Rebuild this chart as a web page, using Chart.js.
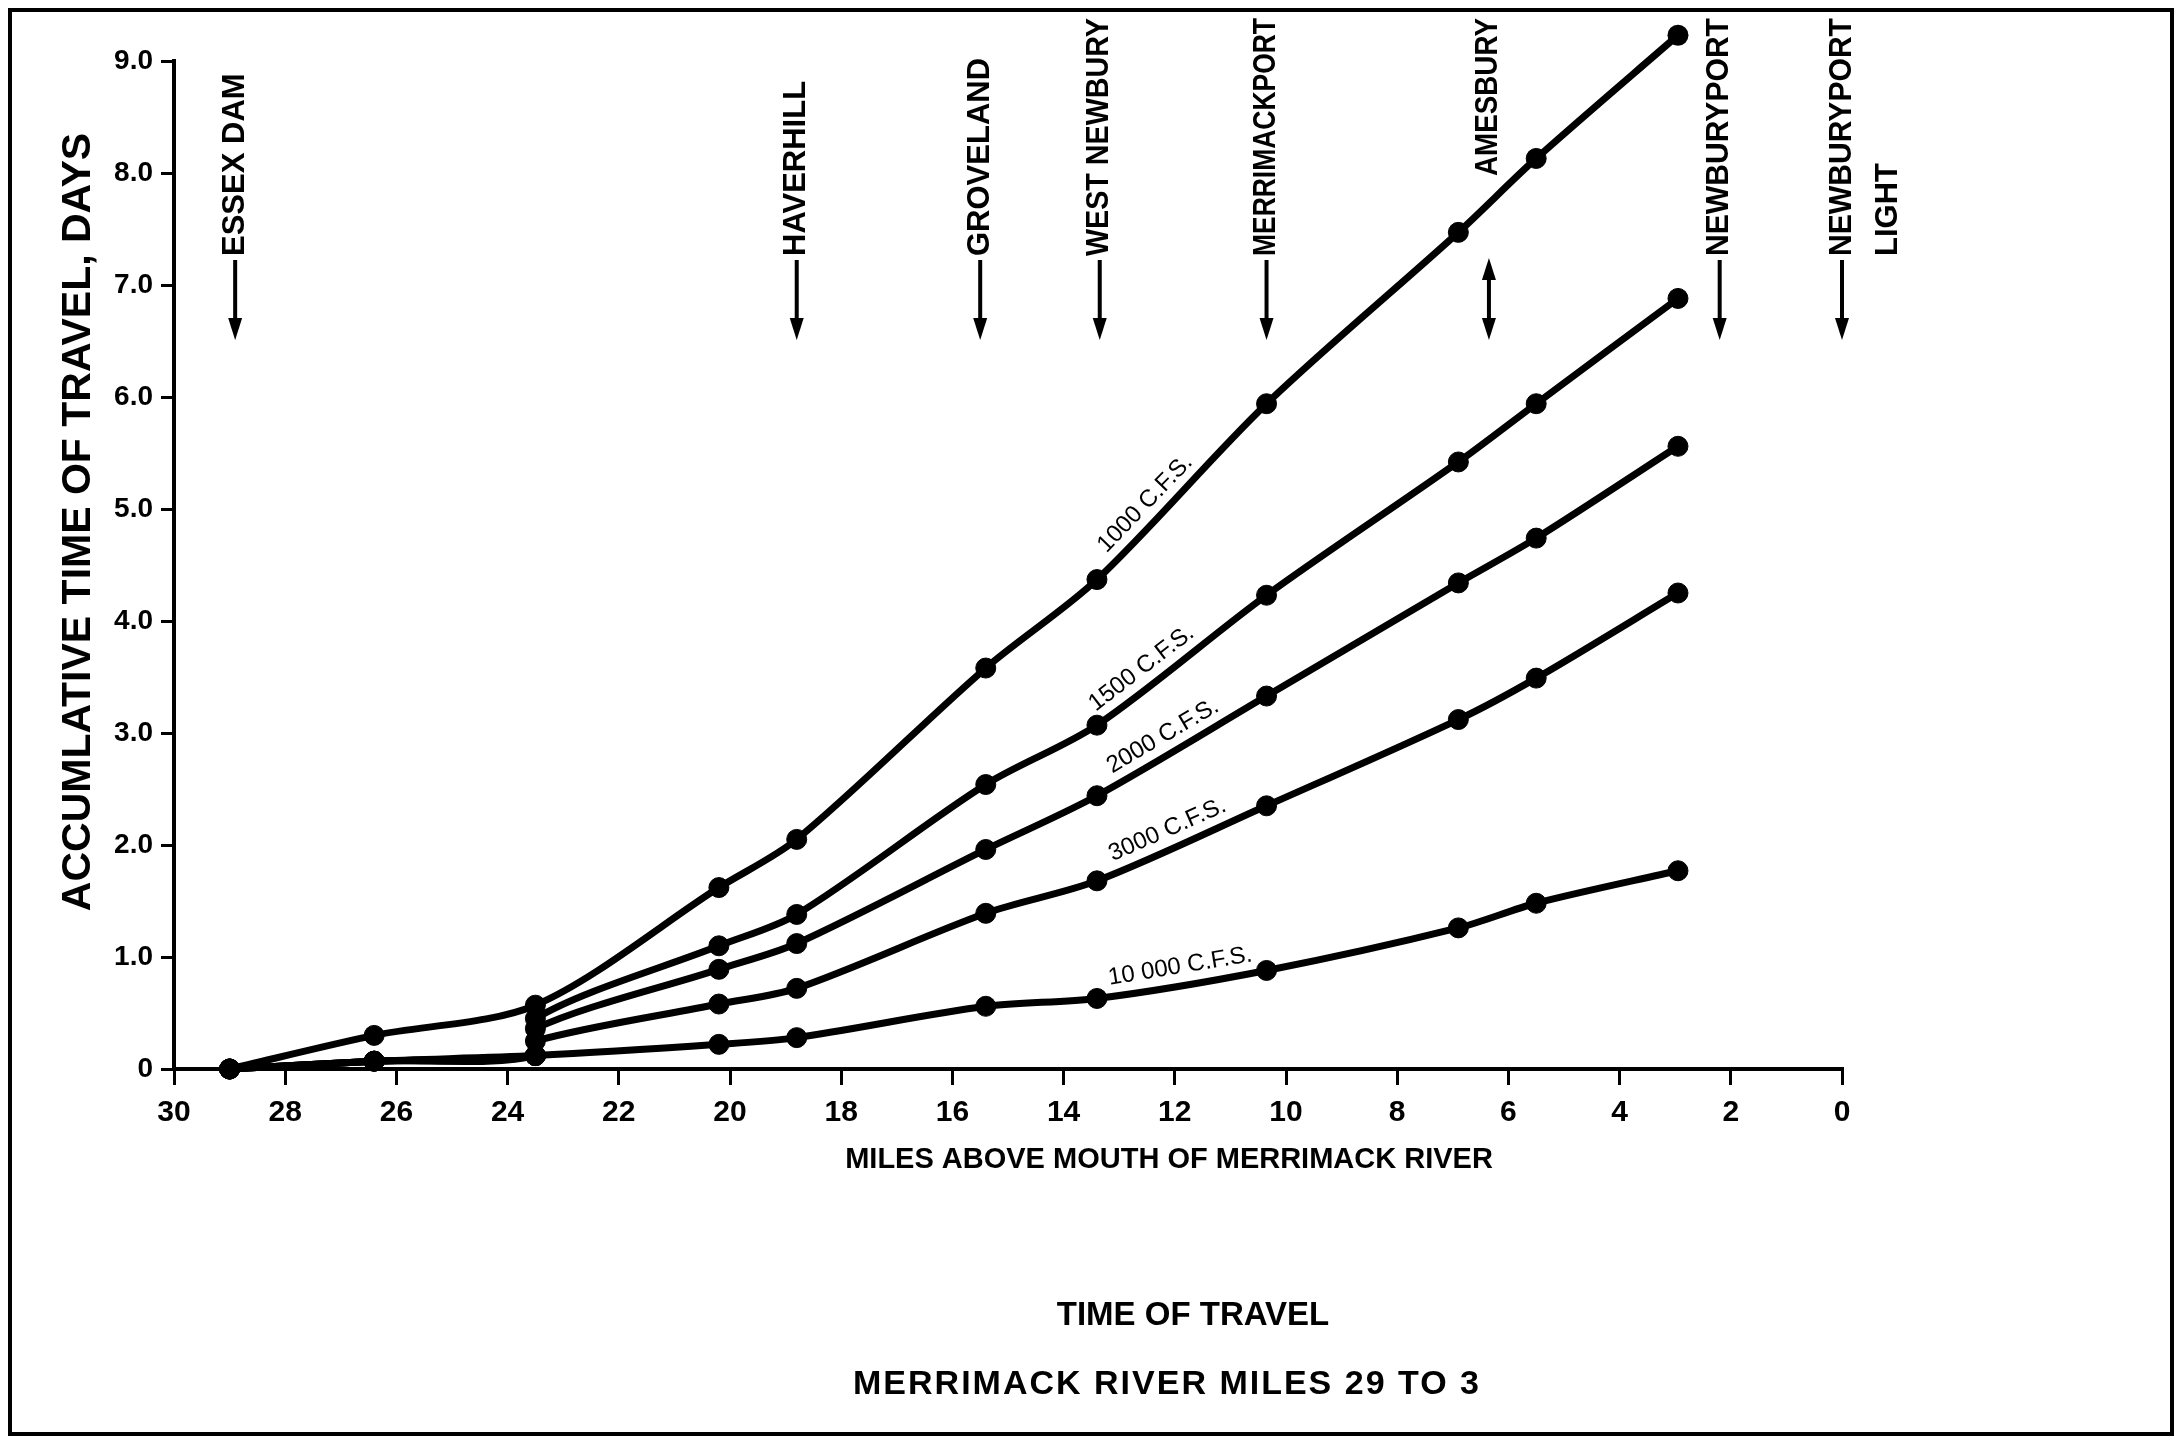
<!DOCTYPE html>
<html>
<head>
<meta charset="utf-8">
<title>Time of Travel - Merrimack River</title>
<script src="https://cdn.jsdelivr.net/npm/chart.js@4.4.1/dist/chart.umd.min.js"></script>
<style>
  html, body { margin: 0; padding: 0; background: #fff; }
  canvas { display: block; }
</style>
</head>
<body>
<canvas id="chart" width="2183" height="1441"></canvas>
<script>
  // miles above the mouth of the river and accumulated days of travel
  let miles1000 = [29, 26.4, 23.5, 20.2, 18.8, 15.4, 13.4, 10.35, 6.9, 5.5, 2.95];
  let days1000 = [0, 0.30, 0.57, 1.62, 2.05, 3.58, 4.37, 5.94, 7.47, 8.13, 9.23];

  let miles1500 = [29, 26.4, 23.5, 23.5, 20.2, 18.8, 15.4, 13.4, 10.35, 6.9, 5.5, 2.95];
  let days1500 = [0, 0.07, 0.12, 0.45, 1.10, 1.38, 2.54, 3.07, 4.23, 5.42, 5.94, 6.88];

  let miles2000 = [29, 26.4, 23.5, 23.5, 20.2, 18.8, 15.4, 13.4, 10.35, 6.9, 5.5, 2.95];
  let days2000 = [0, 0.07, 0.12, 0.36, 0.89, 1.12, 1.96, 2.44, 3.33, 4.34, 4.74, 5.56];

  let miles3000 = [29, 26.4, 23.5, 23.5, 20.2, 18.8, 15.4, 13.4, 10.35, 6.9, 5.5, 2.95];
  let days3000 = [0, 0.07, 0.12, 0.25, 0.58, 0.72, 1.39, 1.68, 2.35, 3.12, 3.49, 4.25];

  let miles10000 = [29, 26.4, 23.5, 20.2, 18.8, 15.4, 13.4, 10.35, 6.9, 5.5, 2.95];
  let days10000 = [0, 0.07, 0.12, 0.22, 0.28, 0.56, 0.63, 0.88, 1.26, 1.48, 1.77];

  let flowLabels = ["1000 C.F.S.", "1500 C.F.S.", "2000 C.F.S.", "3000 C.F.S.", "10 000 C.F.S."];
  let flowLabelMiles = [12.3, 12.4, 12.05, 12.0, 11.85];

  let places = ["ESSEX DAM", "HAVERHILL", "GROVELAND", "WEST NEWBURY", "MERRIMACKPORT", "AMESBURY", "NEWBURYPORT", "NEWBURYPORT"];
  let placeMiles = [28.9, 18.8, 15.5, 13.35, 10.35, 6.35, 2.2, 0];
  let placeSecondLine = ["", "", "", "", "", "", "", "LIGHT"];

  let xTicks = [30, 28, 26, 24, 22, 20, 18, 16, 14, 12, 10, 8, 6, 4, 2, 0];
  let yTicks = [0, 1, 2, 3, 4, 5, 6, 7, 8, 9];

  const FONT = "'Liberation Sans', Arial, sans-serif";
  const DOT = 10;

  function toPoints(xs, ys) {
    return xs.map((x, i) => ({ x: x, y: ys[i] }));
  }

  function series(label, xs, ys) {
    return {
      label: label,
      data: toPoints(xs, ys),
      showLine: true,
      borderColor: "#000",
      backgroundColor: "#000",
      borderWidth: 7,
      pointRadius: DOT,
      pointHoverRadius: DOT,
      pointBorderWidth: 1,
      tension: 0.3,
      clip: false,
    };
  }

  function arrowHead(ctx, x, y, dir) {
    ctx.beginPath();
    ctx.moveTo(x, y);
    ctx.lineTo(x - 7, y - 22 * dir);
    ctx.lineTo(x + 7, y - 22 * dir);
    ctx.closePath();
    ctx.fill();
  }

  const extras = {
    id: "extras",
    afterDatasetsDraw(chart) {
      // Chart.js skips points that sit above the chart area (the 9.2 day point)
      let ctx = chart.ctx;
      let area = chart.chartArea;
      ctx.save();
      ctx.fillStyle = "#000";
      chart.data.datasets.forEach((ds, d) => {
        chart.getDatasetMeta(d).data.forEach(pt => {
          if (pt.y < area.top - DOT / 2) {
            ctx.beginPath();
            ctx.arc(pt.x, pt.y, DOT + 0.5, 0, Math.PI * 2);
            ctx.fill();
          }
        });
      });
      ctx.restore();
    },
    afterDraw(chart) {
      let ctx = chart.ctx;
      let xs = chart.scales.x;
      ctx.save();
      ctx.fillStyle = "#000";
      ctx.strokeStyle = "#000";

      // frame around the figure
      ctx.lineWidth = 4;
      ctx.strokeRect(10, 10, 2162, 1424);

      // flow labels written along the curves
      ctx.font = "24px " + FONT;
      chart.data.datasets.forEach((ds, d) => {
        let meta = chart.getDatasetMeta(d);
        let target = flowLabelMiles[d];
        for (let i = 0; i < ds.data.length - 1; i++) {
          let a = ds.data[i], b = ds.data[i + 1];
          if (a.x >= target && b.x <= target && a.x !== b.x) {
            let pa = meta.data[i], pb = meta.data[i + 1];
            let t = (a.x - target) / (a.x - b.x);
            let px = pa.x + (pb.x - pa.x) * t;
            let py = pa.y + (pb.y - pa.y) * t;
            let ang = Math.atan2(pb.y - pa.y, pb.x - pa.x);
            ctx.save();
            ctx.translate(px, py);
            ctx.rotate(ang);
            ctx.textAlign = "center";
            ctx.textBaseline = "bottom";
            ctx.fillText(flowLabels[d], 0, -6);
            ctx.restore();
            break;
          }
        }
      });

      // place names with arrows
      ctx.font = "bold 31px " + FONT;
      ctx.lineWidth = 4;
      places.forEach((name, i) => {
        let px = xs.getPixelForValue(placeMiles[i]);
        let double = name === "AMESBURY";
        let textEnd = double ? 176 : 256;
        ctx.save();
        ctx.translate(px, textEnd);
        ctx.rotate(-Math.PI / 2);
        ctx.textAlign = "left";
        ctx.textBaseline = "middle";
        ctx.fillText(name, 0, 0, Math.min(240, textEnd - 18));
        if (placeSecondLine[i]) ctx.fillText(placeSecondLine[i], 0, 46);
        ctx.restore();

        let top = double ? 262 : textEnd + 4;
        ctx.beginPath();
        ctx.moveTo(px, top + (double ? 18 : 0));
        ctx.lineTo(px, 322);
        ctx.stroke();
        arrowHead(ctx, px, 340, 1);
        if (double) arrowHead(ctx, px, 258, -1);
      });

      // y axis title
      ctx.save();
      ctx.translate(79, 522);
      ctx.rotate(-Math.PI / 2);
      ctx.font = "bold 41px " + FONT;
      ctx.textAlign = "center";
      ctx.textBaseline = "middle";
      ctx.fillText("ACCUMLATIVE TIME OF TRAVEL, DAYS", 0, 0);
      ctx.restore();

      // x axis title and figure caption
      ctx.textAlign = "center";
      ctx.textBaseline = "middle";
      ctx.font = "bold 29px " + FONT;
      ctx.fillText("MILES ABOVE MOUTH OF MERRIMACK RIVER", 1169, 1160);
      ctx.font = "bold 33px " + FONT;
      ctx.fillText("TIME OF TRAVEL", 1193, 1316);
      ctx.font = "bold 34px " + FONT;
      ctx.letterSpacing = "2px";
      ctx.fillText("MERRIMACK RIVER MILES 29 TO 3", 1167, 1385);
      ctx.restore();
    },
  };

  let chart = new Chart(document.getElementById("chart"), {
    type: "scatter",
    data: {
      datasets: [
        series(flowLabels[0], miles1000, days1000),
        series(flowLabels[1], miles1500, days1500),
        series(flowLabels[2], miles2000, days2000),
        series(flowLabels[3], miles3000, days3000),
        series(flowLabels[4], miles10000, days10000),
      ],
    },
    options: {
      responsive: false,
      animation: false,
      layout: { padding: { top: 61, right: 341, left: 0, bottom: 0 } },
      plugins: { legend: { display: false }, tooltip: { enabled: false } },
      scales: {
        x: {
          type: "linear",
          reverse: true,
          min: xTicks[xTicks.length - 1],
          max: xTicks[0],
          afterBuildTicks: scale => { scale.ticks = xTicks.map(v => ({ value: v })); },
          ticks: {
            color: "#000",
            font: { family: FONT, size: 30, weight: "bold" },
            padding: 10,
            maxRotation: 0,
            autoSkip: false,
            callback: v => String(v),
          },
          grid: { drawOnChartArea: false, color: "#000", lineWidth: 3, tickLength: 16 },
          border: { color: "#000", width: 4 },
          afterFit: scale => { scale.height = 372; },
        },
        y: {
          min: yTicks[0],
          max: yTicks[yTicks.length - 1],
          afterBuildTicks: scale => { scale.ticks = yTicks.map(v => ({ value: v })); },
          ticks: {
            color: "#000",
            font: { family: FONT, size: 28, weight: "bold" },
            padding: 8,
            callback: v => (v === 0 ? "0" : v.toFixed(1)),
          },
          grid: { drawOnChartArea: false, color: "#000", lineWidth: 3, tickLength: 13 },
          border: { color: "#000", width: 4 },
          afterFit: scale => { scale.width = 174; },
        },
      },
    },
    plugins: [extras],
  });
</script>
</body>
</html>
